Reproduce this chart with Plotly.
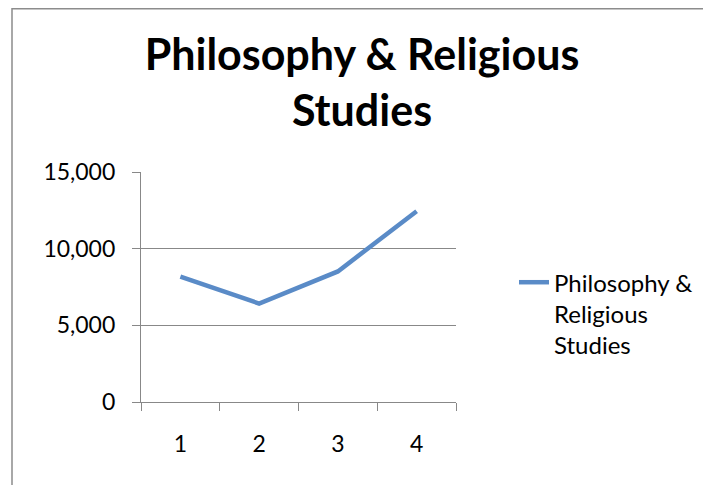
import plotly.graph_objects as go

categories = ["1", "2", "3", "4"]
values = [8170, 6420, 8515, 12445]
series_name = "Philosophy &<br>Religious<br>Studies"
title_text = "Philosophy & Religious<br>Studies"
y_ticks = [0, 5000, 10000, 15000]

# the page body adds an 8px offset; figure coordinates below are page - 8
OFF = 8
W, H = 711 - OFF, 485 - OFF
L, T = 141 - OFF, 172 - OFF
PR, PB = 456 - OFF, 401.7 - OFF
R, B = W - PR, H - PB
pw, ph = PR - L, PB - T

def px2paper_x(px):
    return (px - OFF - L) / pw

def py2paper_y(py):
    return (PB - (py - OFF)) / ph

grid = "#888888"
font = "Lato"

fig = go.Figure()
fig.add_trace(go.Scatter(
    x=categories, y=values, mode="lines", name=series_name,
    line=dict(color="#5A8BC7", width=4.5),
))

fig.update_layout(
    width=W, height=H,
    margin=dict(l=L, r=R, t=T, b=B, autoexpand=False),
    paper_bgcolor="white", plot_bgcolor="white",
    font=dict(family=font, color="black"),
    title=dict(text=title_text, x=(362 - OFF) / W, xanchor="center",
               y=1 - 62 / H, yanchor="top",
               font=dict(family=font, size=43, color="black", weight="bold")),
    showlegend=True,
    legend=dict(x=px2paper_x(514), y=py2paper_y(260), xanchor="left", yanchor="top",
                font=dict(family=font, size=24, color="black"),
                valign="top", bgcolor="rgba(0,0,0,0)", itemwidth=30),
    xaxis=dict(type="category", range=[-0.5, 3.5], tickson="boundaries",
               showgrid=False, showline=True, linecolor=grid, linewidth=1.2,
               ticks="outside", ticklen=8, tickcolor=grid, tickwidth=1.2,
               ticklabelstandoff=21,
               tickfont=dict(family=font, size=23, color="black"),
               fixedrange=True),
    yaxis=dict(range=[0, 15000], tickvals=y_ticks, tickformat=",",
               showgrid=True, gridcolor=grid, gridwidth=1.2,
               showline=True, linecolor=grid, linewidth=1.2,
               ticks="outside", ticklen=8, tickcolor=grid, tickwidth=1.2,
               ticklabelstandoff=12,
               tickfont=dict(family=font, size=23, color="black"),
               zeroline=False, fixedrange=True),
    shapes=[dict(type="rect", xref="paper", yref="paper",
                 x0=px2paper_x(12), x1=px2paper_x(730),
                 y0=py2paper_y(520), y1=py2paper_y(OFF + 1),
                 line=dict(color="#8c8c8c", width=1.5), layer="below")],
)

fig.write_html("out.html")
